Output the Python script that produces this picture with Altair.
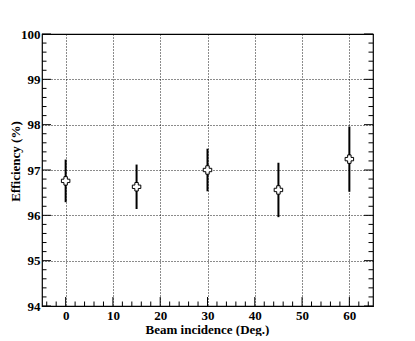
import altair as alt
import pandas as pd

# data
angles = [0, 15, 30, 45, 60]
efficiency = [96.76, 96.63, 97.00, 96.56, 97.24]
errors = [0.47, 0.49, 0.47, 0.60, 0.72]

x_major = [0, 10, 20, 30, 40, 50, 60]
x_minor = [v for v in range(-4, 65, 2) if v % 10 != 0]
y_major = [94, 95, 96, 97, 98, 99, 100]
y_minor = [round(94 + i * 0.2, 1) for i in range(1, 30) if i % 5 != 0]

W, H = 331, 272
FONT = "Liberation Serif"

df = pd.DataFrame({
    "angle": angles,
    "eff": efficiency,
    "lo": [e - d for e, d in zip(efficiency, errors)],
    "hi": [e + d for e, d in zip(efficiency, errors)],
})

xscale = alt.Scale(domain=[-5, 65], nice=False, zero=False)
yscale = alt.Scale(domain=[94, 100], nice=False, zero=False)

x_axis = alt.Axis(
    values=x_major, title="Beam incidence (Deg.)",
    titleX=165, titleY=23, titleAlign="center", titleBaseline="middle",
    labelPadding=3,
)
y_axis = alt.Axis(
    values=y_major, title="Efficiency (%)",
    titleX=-27, titleY=127, titleAlign="center", titleBaseline="middle",
    labelPadding=2,
)

base = alt.Chart(df)

errbars = base.mark_rule(color="black", strokeWidth=2).encode(
    x=alt.X("angle:Q", scale=xscale, axis=x_axis),
    y=alt.Y("lo:Q", scale=yscale, axis=y_axis),
    y2="hi:Q",
)
points = base.mark_point(shape="cross", size=72, filled=True, fill="white",
                         stroke="black", strokeWidth=1, opacity=1).encode(
    x=alt.X("angle:Q", scale=xscale, axis=x_axis),
    y=alt.Y("eff:Q", scale=yscale, axis=y_axis),
)

ymaj = pd.DataFrame({"lo": y_major})
ymin = pd.DataFrame({"lo": y_minor})
xmaj = pd.DataFrame({"angle": x_major})
xmin = pd.DataFrame({"angle": x_minor})

def yticks(d, length):
    left = alt.Chart(d).mark_rule(color="black", strokeWidth=1).encode(
        y=alt.Y("lo:Q", scale=yscale, axis=y_axis), x=alt.value(0), x2=alt.value(length))
    right = alt.Chart(d).mark_rule(color="black", strokeWidth=1).encode(
        y=alt.Y("lo:Q", scale=yscale, axis=y_axis), x=alt.value(W - length), x2=alt.value(W))
    return [left, right]

def xticks(d, length):
    return [alt.Chart(d).mark_rule(color="black", strokeWidth=1).encode(
        x=alt.X("angle:Q", scale=xscale, axis=x_axis), y=alt.value(H), y2=alt.value(H - length))]

layers = [errbars] + yticks(ymaj, 9) + yticks(ymin, 4.5) + xticks(xmaj, 9) + xticks(xmin, 4.5) + [points]

chart = alt.layer(*layers).properties(
    width=W, height=H,
    autosize=alt.AutoSizeParams(type="none"),
    padding={"left": 34, "top": 26, "right": 20, "bottom": 30},
    background="white",
).configure_view(
    stroke="black", strokeWidth=1.2
).configure_axis(
    ticks=False, tickSize=0, domain=False,
    grid=True, gridDash=[1, 2], gridColor="#000000", gridOpacity=0.9,
    labelFont=FONT, labelFontWeight="bold", labelFontSize=13, labelColor="#000000",
    titleFont=FONT, titleFontWeight="bold", titleFontSize=13, titleColor="#000000",
)

chart.save("out.html", embed_options={"renderer": "svg", "actions": False})
